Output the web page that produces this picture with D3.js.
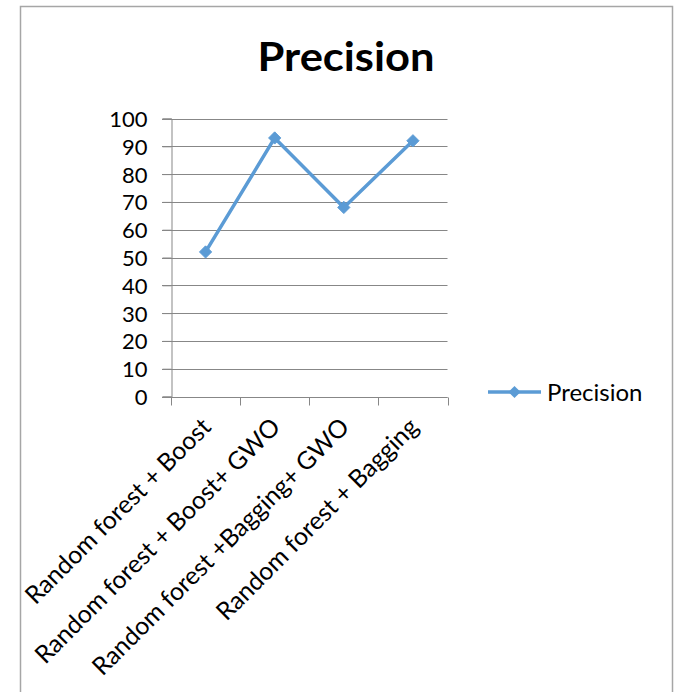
<!DOCTYPE html>
<html>
<head>
<meta charset="utf-8">
<script src="https://cdn.jsdelivr.net/npm/d3@7"></script>
<style>
  html, body { margin: 0; padding: 0; background: #fff; }
  svg { display: block; }
  text { font-family: Lato, "Open Sans", sans-serif; fill: #000; }
</style>
</head>
<body>
<svg id="chart" width="678" height="692"></svg>
<script>
// Precision of each model configuration
const categories = [
  "Random forest + Boost",
  "Random forest + Boost+ GWO",
  "Random forest +Bagging+ GWO",
  "Random forest + Bagging"
];
const precision = [52, 93, 68, 92];
const yTicks = [0, 10, 20, 30, 40, 50, 60, 70, 80, 90, 100];
const seriesName = "Precision";
const chartTitle = "Precision";

const svg = d3.select("#chart");
const lineColor = "#5B9BD5";
const gridColor = "#878787";

// chart frame
svg.append("rect")
  .attr("x", 20.5).attr("y", 6.5)
  .attr("width", 652).attr("height", 700)
  .attr("fill", "none").attr("stroke", "#a6a6a6").attr("stroke-width", 1.5);

const plot = { left: 171, right: 447.5, top: 118.5, bottom: 396.5 };

const x = d3.scaleBand()
  .domain(categories)
  .range([plot.left, plot.right])
  .paddingInner(0).paddingOuter(0);

const y = d3.scaleLinear()
  .domain([0, 100])
  .range([plot.bottom, plot.top]);

// title
svg.append("text")
  .attr("x", 346).attr("y", 71)
  .attr("text-anchor", "middle")
  .attr("font-size", 41).attr("font-weight", "bold")
  .attr("textLength", 177).attr("lengthAdjust", "spacingAndGlyphs")
  .text(chartTitle);

// horizontal gridlines
svg.append("g")
  .selectAll("line")
  .data(yTicks)
  .join("line")
  .attr("x1", plot.left - 9).attr("x2", plot.right)
  .attr("y1", d => Math.round(y(d)) + 0.5).attr("y2", d => Math.round(y(d)) + 0.5)
  .attr("stroke", gridColor).attr("stroke-width", 1);

// y axis
const yAxis = svg.append("g")
  .attr("transform", `translate(${plot.left + 0.5},0)`)
  .call(d3.axisLeft(y).tickValues(yTicks).tickSize(9).tickPadding(15));
yAxis.select(".domain").attr("stroke", gridColor);
yAxis.selectAll(".tick line").attr("stroke", gridColor);
yAxis.selectAll(".tick text")
  .attr("font-size", 22).attr("font-family", "Lato, 'Open Sans', sans-serif")
  .attr("fill", "#000").attr("dy", "0.36em");

// x axis with category boundaries as ticks
const xAxisG = svg.append("g")
  .attr("transform", `translate(0,${Math.round(y(0)) + 0.5})`);
xAxisG.append("line")
  .attr("x1", plot.left).attr("x2", plot.right)
  .attr("stroke", gridColor);
const bounds = categories.map(c => x(c)).concat([x(categories[categories.length - 1]) + x.bandwidth()]);
xAxisG.selectAll("line.b")
  .data(bounds)
  .join("line")
  .attr("class", "b")
  .attr("x1", d => Math.round(d) + 0.5).attr("x2", d => Math.round(d) + 0.5)
  .attr("y1", 0).attr("y2", 8)
  .attr("stroke", gridColor);

// rotated category labels
svg.append("g")
  .selectAll("text")
  .data(categories)
  .join("text")
  .attr("transform", d => `translate(${x(d) + x.bandwidth() / 2 + 7},${plot.bottom + 32}) rotate(-45)`)
  .attr("text-anchor", "end")
  .attr("font-size", 24.8)
  .text(d => d);

// series line
const pts = categories.map((c, i) => [x(c) + x.bandwidth() / 2, y(precision[i])]);
svg.append("path")
  .datum(pts)
  .attr("d", d3.line())
  .attr("fill", "none")
  .attr("stroke", lineColor)
  .attr("stroke-width", 3.5)
  .attr("stroke-linejoin", "round");

// diamond markers
const diamond = d3.symbol().type(d3.symbolDiamond2).size(95);
svg.append("g")
  .selectAll("path")
  .data(pts)
  .join("path")
  .attr("transform", d => `translate(${d[0]},${d[1]})`)
  .attr("d", diamond)
  .attr("fill", lineColor)
  .attr("stroke", lineColor).attr("stroke-width", 1);

// legend
const lg = svg.append("g").attr("transform", "translate(488,392)");
lg.append("line").attr("x1", 0).attr("x2", 53).attr("stroke", lineColor).attr("stroke-width", 3.5);
lg.append("path").attr("transform", "translate(26.5,0)").attr("d", diamond).attr("fill", lineColor);
lg.append("text").attr("x", 59).attr("y", 8.5).attr("font-size", 24).text(seriesName);
</script>
</body>
</html>
